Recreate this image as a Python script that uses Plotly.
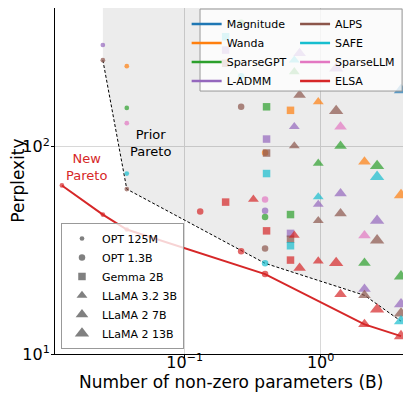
import plotly.graph_objects as go

# modelos y densidades (1 - sparsity): 90%, 80%, 70% de sparsity
models = ["OPT 125M", "OPT 1.3B", "Gemma 2B", "LLaMA 3.2 3B", "LLaMA 2 7B", "LLaMA 2 13B"]
model_params = [0.125, 1.3, 2.0, 3.2, 7.0, 13.0]  # billions
densities = [0.1, 0.2, 0.3]

# perplexity, una fila por modelo, columnas = densities (None = fuera del grafico)
magnitude = [[None, None, None], [None, None, None], [None, None, None],
             [None, None, None], [None, None, None], [None, None, 188]]
wanda = [[None, None, 245], [None, None, 93.5], [None, None, 150],
         [None, None, 165], [None, None, 84.7], [None, None, 58.5]]
sparsegpt = [[None, None, 154], [None, 397, 45.8], [None, 156, 47.1],
             [None, 230, 83.2], [None, 101, 27.5], [None, 80.9, 23.7]]
ladmm = [[None, 310, None], [None, None, 49.1], [293, 109, 38.2],
         [None, 125, 52.7], [283, 59.6, 20.6], [239, 44.0, 17.4]]
alps = [[None, 262, 62.5], [None, 156, 32.3], [253, 93.3, 35.8],
        [None, 101, 44.0], [178, 47.6, 19.2], [149, 35.4, 15.7]]
safe = [[None, None, 74.3], [None, 219, 27.4], [340, 74.3, 33.3],
        [None, 262, 57.3], [None, None, None], [None, 71.6, 14.4]]
sparsellm = [[None, None, 130], [None, None, 55.7], [None, None, None],
             [None, None, None], [None, 125, 37.3], [None, None, None]]
elsa = [[65.1, 47.1, 39.9], [48.7, 31.3, 24.3], [54.1, 39.3, 28.4],
        [55.8, 37.4, 28.1], [26.0, 19.4, 13.9], [27.5, 16.4, 12.2]]

methods = ["Magnitude", "Wanda", "SparseGPT", "L-ADMM", "ALPS", "SAFE", "SparseLLM", "ELSA"]
method_data = [magnitude, wanda, sparsegpt, ladmm, alps, safe, sparsellm, elsa]
colors = ["#1f77b4", "#ff7f0e", "#2ca02c", "#9467bd", "#8c564b", "#17becf", "#e377c2", "#d62728"]

prior_pareto_x = [0.025, 0.0375, 0.39, 2.1, 3.9]
prior_pareto_y = [262, 62.5, 27.4, 19.2, 14.4]
new_pareto_x = [0.0125, 0.025, 0.0375, 0.39, 2.1, 3.9]
new_pareto_y = [65.1, 47.1, 39.9, 24.3, 13.9, 12.2]

symbols = ["circle", "circle", "square", "triangle-up", "triangle-up", "triangle-up"]
sizes = [4.7, 6.5, 7.5, 9.5, 11, 12.5]

x_range = [-1.954, 0.635]
y_range = [1, 2.67]
FONT = "DejaVu Sans"

fig = go.Figure()

# zona sombreada por encima del frente de Pareto previo
x_left, x_right, y_top = prior_pareto_x[0], 10 ** x_range[1], 10 ** y_range[1]
fig.add_trace(go.Scatter(
    x=[x_left] + prior_pareto_x + [x_right, x_right, x_left],
    y=[y_top] + prior_pareto_y + [prior_pareto_y[-1], y_top, y_top],
    fill="toself", fillcolor="rgba(0,0,0,0.075)", mode="none",
    showlegend=False, hoverinfo="skip"))

fig.add_trace(go.Scatter(
    x=prior_pareto_x, y=prior_pareto_y, mode="lines",
    line=dict(color="black", width=1, dash="3px,2px"), showlegend=False))

fig.add_trace(go.Scatter(
    x=new_pareto_x, y=new_pareto_y, mode="lines",
    line=dict(color=colors[-1], width=2), showlegend=False))

for name, data, color in zip(methods, method_data, colors):
    xs, ys, syms, szs = [], [], [], []
    for i, row in enumerate(data):
        for d, val in zip(densities, row):
            if val is None:
                continue
            xs.append(model_params[i] * d)
            ys.append(val)
            syms.append(symbols[i])
            szs.append(sizes[i])
    fig.add_trace(go.Scatter(
        x=xs, y=ys, mode="markers", name=name, showlegend=False,
        marker=dict(color=color, symbol=syms, size=szs, line=dict(width=0))))

# leyenda de metodos (dos columnas)
for k, (name, color) in enumerate(zip(methods, colors)):
    fig.add_trace(go.Scatter(
        x=[None], y=[None], mode="lines", name=name,
        line=dict(color=color, width=2.5),
        legend="legend" if k < 4 else "legend3"))

# leyenda de modelos
for i, m in enumerate(models):
    fig.add_trace(go.Scatter(
        x=[None], y=[None], mode="markers", name=m, legend="legend2",
        marker=dict(color="#808080", symbol=symbols[i], size=sizes[i])))

fig.add_annotation(x=-1.255, y=2.02, xref="x", yref="y", text="Prior<br>Pareto",
                   showarrow=False, font=dict(size=13, color="black", family=FONT))
fig.add_annotation(x=-1.72, y=1.905, xref="x", yref="y", text="New<br>Pareto",
                   showarrow=False, font=dict(size=13, color=colors[-1], family=FONT))
fig.add_annotation(x=0.5, y=-0.08, xref="paper", yref="paper", yanchor="middle",
                   text="Number of non-zero parameters (B)", showarrow=False,
                   font=dict(size=17, color="black", family=FONT))
fig.add_annotation(x=-0.106, y=0.5, xref="paper", yref="paper", textangle=-90,
                   xanchor="center", yanchor="middle", text="Perplexity", showarrow=False,
                   font=dict(size=17, color="black", family=FONT))

# caja de la leyenda de metodos
fig.add_shape(type="rect", xref="paper", yref="paper", x0=0.412, x1=0.986, y0=0.76, y1=0.997,
              line=dict(color="#999999", width=1), fillcolor="rgba(255,255,255,0.8)", layer="above")

legend_common = dict(bgcolor="rgba(0,0,0,0)", borderwidth=0, font=dict(size=11, family=FONT),
                     xanchor="left", yanchor="top", itemwidth=30, tracegroupgap=0)
fig.update_layout(
    width=403, height=388,
    margin=dict(l=47, r=4, t=0, b=42),
    plot_bgcolor="white", paper_bgcolor="white",
    font=dict(family=FONT, color="black"),
    legend=dict(x=0.374, y=0.996, **legend_common),
    legend3=dict(x=0.682, y=0.996, **legend_common),
    legend2=dict(x=0.017, y=0.0145, xanchor="left", yanchor="bottom",
                 bgcolor="rgba(255,255,255,0.8)", bordercolor="#999999", borderwidth=1,
                 font=dict(size=11, family=FONT), itemsizing="trace"),
    xaxis=dict(type="log", range=x_range, showline=True, linecolor="black", mirror=True,
               ticks="outside", ticklen=3, tickcolor="black", ticklabelstandoff=-9,
               tickvals=[0.1, 1], ticktext=["10<sup>−1</sup>", "10<sup>0</sup>"],
               tickfont=dict(size=16), showgrid=True, gridcolor="#d8d8d8", zeroline=False),
    yaxis=dict(type="log", range=y_range, showline=True, linecolor="black", mirror=True,
               ticks="outside", ticklen=3, tickcolor="black", ticklabelstandoff=-2,
               tickvals=[10, 100], ticktext=["10<sup>1</sup>", "10<sup>2</sup>"],
               tickfont=dict(size=16), showgrid=True, gridcolor="#d8d8d8", zeroline=False),
)

fig.write_html("out.html")
